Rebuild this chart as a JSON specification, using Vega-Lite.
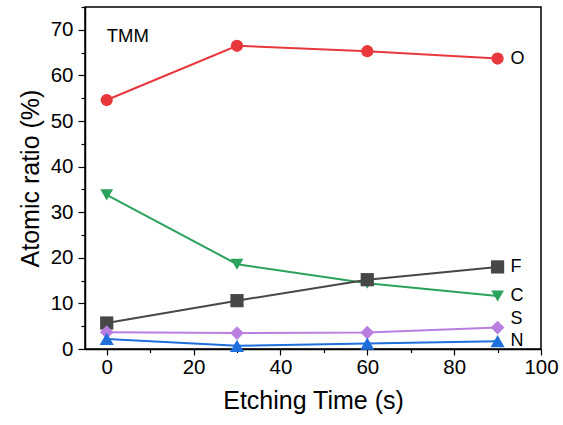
{
  "$schema": "https://vega.github.io/schema/vega-lite/v6.json",
  "width": 456,
  "height": 342,
  "autosize": {"type": "none"},
  "padding": {"left": 85, "top": 7, "right": 22, "bottom": 76},
  "config": {
    "font": "Liberation Sans",
    "view": {"stroke": "#000", "strokeWidth": 1.5},
    "axis": {
      "domainColor": "#000",
      "domainWidth": 1.5,
      "tickColor": "#000",
      "tickWidth": 1.2,
      "labelColor": "#000",
      "titleColor": "#000",
      "labelFontSize": 20.5,
      "titleFontSize": 25,
      "titleFontWeight": "normal",
      "grid": false
    }
  },
  "data": {
    "values": [
      {"series": "O", "t": 0, "v": 54.6},
      {"series": "O", "t": 30, "v": 66.5},
      {"series": "O", "t": 60, "v": 65.3},
      {"series": "O", "t": 90, "v": 63.7},
      {"series": "C", "t": 0, "v": 33.8},
      {"series": "C", "t": 30, "v": 18.6},
      {"series": "C", "t": 60, "v": 14.4},
      {"series": "C", "t": 90, "v": 11.6},
      {"series": "F", "t": 0, "v": 5.7},
      {"series": "F", "t": 30, "v": 10.6},
      {"series": "F", "t": 60, "v": 15.2},
      {"series": "F", "t": 90, "v": 18.0},
      {"series": "S", "t": 0, "v": 3.7},
      {"series": "S", "t": 30, "v": 3.5},
      {"series": "S", "t": 60, "v": 3.6},
      {"series": "S", "t": 90, "v": 4.7},
      {"series": "N", "t": 0, "v": 2.2},
      {"series": "N", "t": 30, "v": 0.7},
      {"series": "N", "t": 60, "v": 1.2},
      {"series": "N", "t": 90, "v": 1.7}
    ]
  },
  "encoding": {
    "x": {
      "field": "t", "type": "quantitative",
      "scale": {"domain": [-5, 100], "nice": false, "zero": false},
      "axis": {
        "title": "Etching Time (s)",
        "values": [0, 10, 20, 30, 40, 50, 60, 70, 80, 90, 100],
        "labelExpr": "datum.value % 20 === 0 ? datum.label : ''",
        "tickSize": {"condition": {"test": "datum.value % 20 === 0", "value": 6}, "value": 3.5},
        "labelPadding": 2,
        "titlePadding": 11,
        "labelFlush": false
      }
    },
    "y": {
      "field": "v", "type": "quantitative",
      "scale": {"domain": [0, 75], "nice": false},
      "axis": {
        "title": "Atomic ratio (%)",
        "values": [0, 5, 10, 15, 20, 25, 30, 35, 40, 45, 50, 55, 60, 65, 70, 75],
        "labelExpr": "datum.value % 10 === 0 ? datum.label : ''",
        "tickSize": {"condition": {"test": "datum.value % 10 === 0", "value": 7}, "value": 4},
        "labelPadding": 5,
        "titlePadding": 7,
        "labelFlush": false
      }
    },
    "color": {
      "field": "series", "type": "nominal",
      "scale": {
        "domain": ["O", "C", "F", "S", "N"],
        "range": ["#e8383d", "#2aa25c", "#474747", "#b87ee0", "#1f6fdc"]
      },
      "legend": null
    }
  },
  "layer": [
    {
      "mark": {"type": "line", "strokeWidth": 2},
      "encoding": {"detail": {"field": "series"}}
    },
    {
      "mark": {"type": "point", "filled": true, "opacity": 1},
      "encoding": {
        "shape": {
          "field": "series", "type": "nominal",
          "scale": {
            "domain": ["O", "C", "F", "S", "N"],
            "range": ["circle", "triangle-down", "square", "diamond", "triangle-up"]
          },
          "legend": null
        },
        "size": {
          "field": "series", "type": "nominal",
          "scale": {"domain": ["O", "C", "F", "S", "N"], "range": [150, 200, 110, 240, 200]},
          "legend": null
        }
      }
    },
    {
      "transform": [{"filter": "datum.t === 90 && datum.series !== 'S'"}],
      "mark": {"type": "text", "align": "left", "baseline": "middle", "dx": 13, "fontSize": 18, "color": "#000"},
      "encoding": {"text": {"field": "series"}, "color": {"value": "#000"}}
    },
    {
      "transform": [{"filter": "datum.t === 90 && datum.series === 'S'"}],
      "mark": {"type": "text", "align": "left", "baseline": "middle", "dx": 13, "dy": -9, "fontSize": 18, "color": "#000"},
      "encoding": {"text": {"field": "series"}, "color": {"value": "#000"}}
    },
    {
      "data": {"values": [{"t": 0, "v": 68.6, "label": "TMM"}]},
      "mark": {"type": "text", "align": "left", "baseline": "middle", "fontSize": 18.5, "color": "#000"},
      "encoding": {"text": {"field": "label"}, "color": {"value": "#000"}}
    }
  ]
}
